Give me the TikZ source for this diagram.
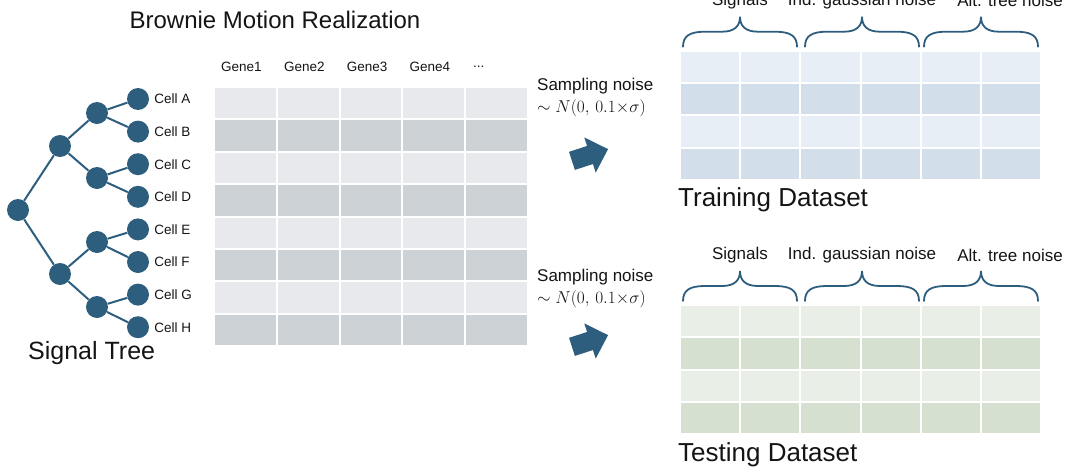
\documentclass[tikz,border=0pt]{standalone}
\usepackage{fontspec}
\setmainfont{Liberation Sans}
\usepackage{tikz}
\usepackage{xcolor}
\usetikzlibrary{arrows.meta,calc,positioning}
\definecolor{treeblue}{RGB}{46,94,126}
\definecolor{greylt}{RGB}{231,233,236}
\definecolor{greydk}{RGB}{205,210,214}
\definecolor{bluelt}{RGB}{232,238,246}
\definecolor{bluedk}{RGB}{211,222,235}
\definecolor{greenlt}{RGB}{233,239,230}
\definecolor{greendk}{RGB}{213,224,208}
\definecolor{inkblack}{RGB}{20,20,20}

\begin{document}
\begin{tikzpicture}[x=1pt,y=-1pt,>=Stealth,text=inkblack,
  dot/.style={circle,fill=treeblue,minimum size=22pt,inner sep=0pt},
  edge/.style={treeblue,line width=2pt},
  cell/.style={draw=white,line width=2pt},
  bigtitle/.style={font=\fontsize{25}{29}\selectfont,inner sep=0pt},
  midtext/.style={font=\fontsize{17}{22}\selectfont,inner sep=0pt},
  smalltext/.style={font=\fontsize{13.5}{15}\selectfont,inner sep=0pt},
  brace/.style={treeblue,line width=1.8pt,line cap=round}]
  \useasboundingbox (0,0) rectangle (1070,474);
  % signal tree
  \node[dot] (root) at (18,210) {};
  \node[dot] (n1) at (60,146) {};
  \node[dot] (n2) at (60,274) {};
  \node[dot] (m1) at (97,113) {};
  \node[dot] (m2) at (97,178) {};
  \node[dot] (m3) at (97,242) {};
  \node[dot] (m4) at (97,307) {};
  \foreach \c [count=\i from 0] in {A,B,C,D,E,F,G,H} {
    \node[dot] (leaf\c) at (138,{99+\i*32.6}) {};
    \node[smalltext,anchor=west] (lab\c) at ([xshift=5pt]leaf\c.east) {Cell \c};
  }
  \draw[edge] (root)--(n1) (root)--(n2) (n1)--(m1) (n1)--(m2) (n2)--(m3) (n2)--(m4);
  \draw[edge] (m1)--(leafA) (m1)--(leafB) (m2)--(leafC) (m2)--(leafD);
  \draw[edge] (m3)--(leafE) (m3)--(leafF) (m4)--(leafG) (m4)--(leafH);
  \node[bigtitle,anchor=west] (treetitle) at (28,353) {Signal Tree};
  % gene matrix
  \node[bigtitle,font=\fontsize{24}{28}\selectfont] (bmtitle) at (275,20) {Brownie Motion Realization};
  \foreach \r in {0,...,7} \foreach \c in {0,...,4} {
    \ifodd\r \def\rowfill{greydk}\else\def\rowfill{greylt}\fi
    \filldraw[cell,fill=\rowfill] ({214+\c*62.8},{87+\r*32.4}) rectangle ++(62.8,32.4);
  }
  \foreach \g [count=\c from 0] in {Gene1,Gene2,Gene3,Gene4}
    \node[smalltext,anchor=west] (gene\c) at ({214+\c*62.8+7},67) {\g};
  \node[smalltext,anchor=west] (genedots) at (473,67) {...};
  % sampling noise
  \node[midtext,anchor=west,align=left] (noise1) at (537,97) {Sampling noise\\$\sim N(0,\,0.1{\times}\sigma)$};
  \node[midtext,anchor=west,align=left] (noise2) at (537,288) {Sampling noise\\$\sim N(0,\,0.1{\times}\sigma)$};
  \foreach \ay in {155,341}
    \fill[treeblue,shift={(590,\ay)},rotate=18]
      (-19,-9.5)--(0,-9.5)--(0,-18.5)--(19,0)--(0,18.5)--(0,9.5)--(-19,9.5)--cycle;
  % datasets
  \foreach \ty/\lt/\dk in {50.7/bluelt/bluedk,305/greenlt/greendk} {
    \foreach \r in {0,...,3} \foreach \c in {0,...,5} {
      \ifodd\r \edef\rowfill{\dk}\else\edef\rowfill{\lt}\fi
      \filldraw[cell,fill=\rowfill] ({680+\c*60.2},{\ty+\r*32.3}) rectangle ++(60.2,32.3);
    }
    \foreach \xl [evaluate=\xl as \xc using \xl+57] in {683,805,924}
      \draw[brace] (\xl,\ty-4) .. controls (\xl,\ty-15) and (\xl+7,\ty-19) .. (\xl+22,\ty-19)
        -- (\xc-18,\ty-19) .. controls (\xc-5,\ty-19) and (\xc,\ty-25) .. (\xc,\ty-34)
        .. controls (\xc,\ty-25) and (\xc+5,\ty-19) .. (\xc+18,\ty-19)
        -- (\xl+92,\ty-19) .. controls (\xl+107,\ty-19) and (\xl+114,\ty-15) .. (\xl+114,\ty-4);
    \node[midtext] (sig\ty) at (740,\ty-50) {Signals};
    \node[midtext] (ind\ty) at (862,\ty-50) {Ind. gaussian noise};
    \node[midtext] (alt\ty) at (1010,\ty-50) {Alt. tree noise};
  }
  \node[bigtitle,anchor=west,font=\fontsize{26}{30}\selectfont] (traintitle) at (678,200) {Training Dataset};
  \node[bigtitle,anchor=west,font=\fontsize{26}{30}\selectfont] (testtitle) at (678,455) {Testing Dataset};
\end{tikzpicture}
\end{document}
